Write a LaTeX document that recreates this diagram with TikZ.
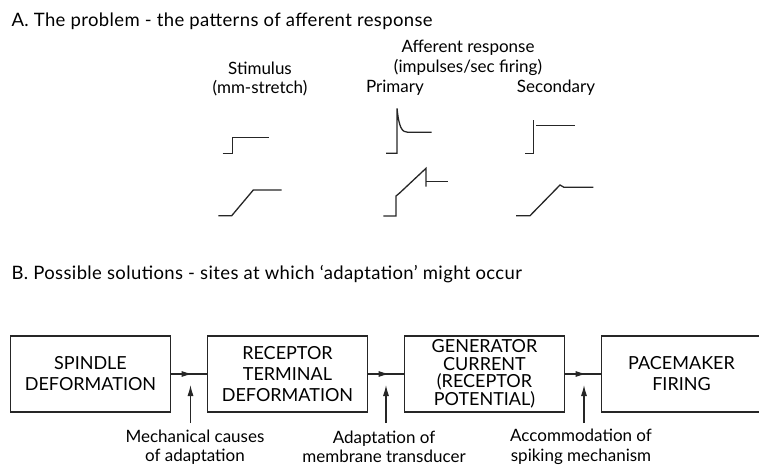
\documentclass[tikz,border=0pt]{standalone}
\usepackage{xcolor}
\usepackage{fontspec}
\setmainfont{Lato}
\usetikzlibrary{arrows, arrows.meta, decorations.markings}
\tikzstyle{stage} = [rectangle, minimum width=160pt, minimum height=76pt, inner sep=2pt, align=center, draw=black!85, line width=1.1pt, font=\fontsize{18}{21}\selectfont]
\tikzstyle{heading} = [anchor=base west, font=\fontsize{18.5}{22}\selectfont\addfontfeatures{LetterSpace=2}]
\tikzstyle{caption} = [align=center, font=\fontsize{17}{19.5}\selectfont]
\tikzstyle{trace} = [line width=1.3pt, draw=black!85]
\tikzstyle{flow} = [line width=1.1pt, draw=black!85, postaction={decorate}, decoration={markings, mark=at position 0.6 with {\arrow{Latex[length=11pt,width=6pt]}}}]
\tikzstyle{cause} = [line width=1.1pt, draw=black!85, -{Latex[length=11pt,width=6pt]}]

\begin{document}
\begin{tikzpicture}[x=1pt, y=-1pt, node distance=197pt]
\useasboundingbox (0,0) rectangle (759,468);
\node (titleA) [heading] at (8,26.5) {A. The problem - the patterns of afferent response};
\node (afferent) [caption] at (468,58) {Afferent response\\(impulses/sec firing)};
\node (stimulus) [caption] at (260,79) {Stimulus\\(mm-stretch)};
\node (primary) [caption] at (395,88) {Primary};
\node (secondary) [caption] at (556,88) {Secondary};

\draw[trace] (222.7,153.3) -- (232.7,153.3) -- (232.7,137.7) -- (269,137.7);
\draw[trace] (386,153.3) -- (397,153.3) -- (397,108.3) .. controls (399,128) and (402,132.3) .. (408,132.3) -- (431.7,132.3);
\draw[trace] (525,153.3) -- (533.3,153.3) -- (533.3,120);
\draw[trace, line width=1pt] (536,125) -- (575,125);
\draw[trace] (218.3,215.7) -- (231.7,215.7) -- (253.3,190) -- (281.7,190);
\draw[trace] (383.3,216) -- (396,216) -- (396,196) -- (399.3,193.3) -- (426,168.3) -- (426,186.7);
\draw[trace] (426,181.7) -- (448.3,181.7);
\draw[trace] (516,215.7) -- (530,215.7) -- (560,185) -- (564,187.3) -- (593.3,187.3);

\node (titleB) [heading] at (8,279) {B. Possible solutions - sites at which `adaptation' might occur};

\node (spindle) [stage] at (90.5,374) {SPINDLE\\DEFORMATION};
\node (terminal) [stage, right of=spindle] {RECEPTOR\\TERMINAL\\DEFORMATION};
\node (generator) [stage, right of=terminal, font=\fontsize{18}{17.5}\selectfont] {GENERATOR\\CURRENT\\(RECEPTOR\\POTENTIAL)};
\node (pacemaker) [stage, right of=generator] {PACEMAKER\\FIRING};

\node (mechanical) [caption] at (195,447) {Mechanical causes\\of adaptation};
\node (transducer) [caption] at (384,447) {Adaptation of\\membrane transducer};
\node (spiking) [caption] at (581,447) {Accommodation of\\spiking mechanism};

\coordinate (mechanical_in) at (190.5,423);
\coordinate (mechanical_at) at (190.5,385);
\coordinate (transducer_in) at (386,423);
\coordinate (transducer_at) at (386,385);
\coordinate (spiking_in) at (584,423);
\coordinate (spiking_at) at (584,385);

\draw[flow] (spindle) -- (terminal);
\draw[flow] (terminal) -- (generator);
\draw[flow] (generator) -- (pacemaker);

\draw[cause] (mechanical_in) -- (mechanical_at);
\draw[cause] (transducer_in) -- (transducer_at);
\draw[cause] (spiking_in) -- (spiking_at);
\end{tikzpicture}
\end{document}
